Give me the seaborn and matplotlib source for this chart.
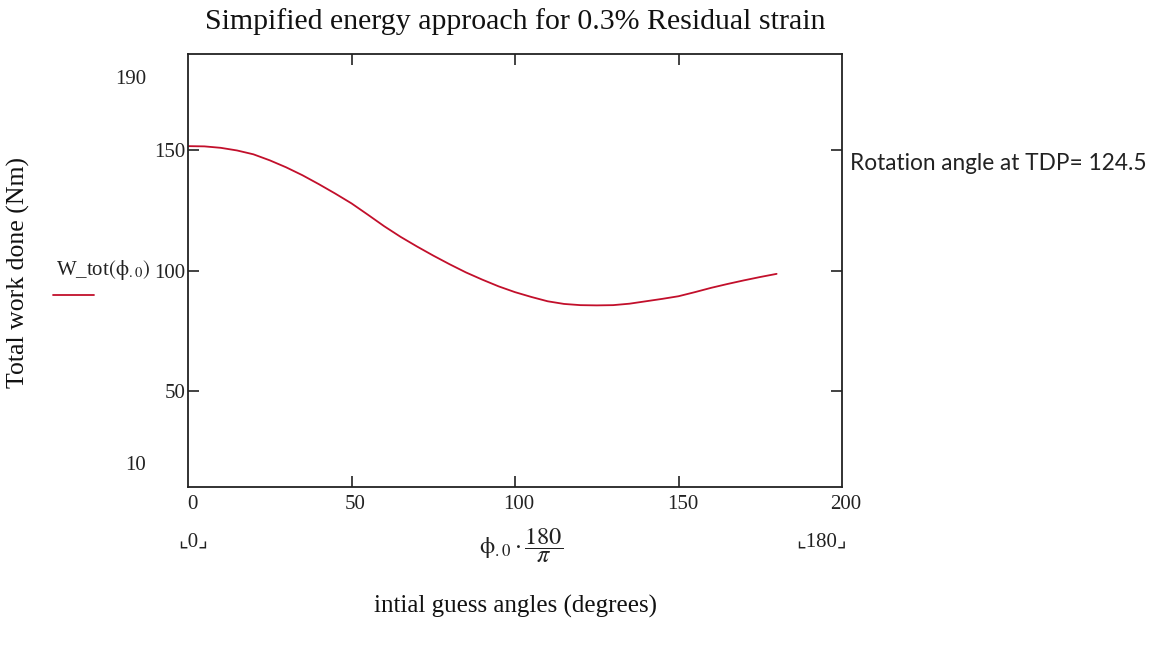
import matplotlib
matplotlib.use("Agg")
import matplotlib.pyplot as plt
from matplotlib.lines import Line2D
import matplotlib.transforms as mtransforms
import seaborn as sns
import pandas as pd

# ---- data ----
phi_deg = [0, 5, 10, 15, 20, 25, 30, 35, 40, 45, 50, 55, 60, 65, 70, 75, 80, 85, 90,
           95, 100, 105, 110, 115, 120, 125, 130, 135, 140, 145, 150, 155, 160, 165, 170, 175, 180]
w_tot = [151.7, 151.6, 151.0, 149.9, 148.3, 145.8, 142.9, 139.6, 135.9, 132.0, 127.9, 123.2, 118.4,
         114.0, 110.0, 106.2, 102.6, 99.2, 96.2, 93.4, 91.0, 89.0, 87.2, 86.1, 85.6, 85.5, 85.6,
         86.2, 87.2, 88.2, 89.3, 91.0, 92.8, 94.4, 95.9, 97.3, 98.6]
x_ticks = [0, 50, 100, 150, 200]
y_ticks = [50, 100, 150]
y_limits = [10, 190]
x_limits = [0, 200]
title = "Simpified energy approach for 0.3% Residual strain"
y_label = "Total work done (Nm)"
x_label = "intial guess angles (degrees)"
note = "Rotation angle at TDP= 124.5"

W, H = 1158, 646
sns.set_theme(style="white")
plt.rcParams["font.family"] = ["Liberation Serif", "DejaVu Serif"]
plt.rcParams["mathtext.fontset"] = "stix"

fig = plt.figure(figsize=(W / 100, H / 100), dpi=100)
fig.patch.set_facecolor("white")


def fx(x):
    return x / W


def fy(y):
    return 1 - y / H


ax = fig.add_axes([fx(188), fy(487), (842 - 188) / W, (487 - 54) / H])
df = pd.DataFrame({"phi": phi_deg, "W": w_tot})
red = "#c20f2b"
sns.lineplot(data=df, x="phi", y="W", ax=ax, color=red, linewidth=1.3)

ax.set_xlim(*x_limits)
ax.set_ylim(*y_limits)
ax.set_xticks(x_ticks)
ax.set_yticks(y_ticks)
ax.set_xticklabels([str(v) for v in x_ticks])
ax.set_yticklabels([str(v) for v in y_ticks])
ax.tick_params(axis="both", direction="in", length=8, width=1.2, color="#222222",
               top=True, right=True, bottom=True, left=True,
               labelsize=15, labelcolor="#222222", pad=6)
ax.tick_params(axis="y", pad=2)
shift = mtransforms.ScaledTranslation(4 / 100, 0, fig.dpi_scale_trans)
for lab in ax.get_xticklabels():
    lab.set_transform(lab.get_transform() + shift)
for side in ax.spines.values():
    side.set_color("#222222")
    side.set_linewidth(1.3)
ax.set_xlabel("")
ax.set_ylabel("")
ax.grid(False)
for t in [ax.xaxis.get_major_ticks()[0], ax.xaxis.get_major_ticks()[-1]]:
    t.tick1line.set_visible(False)
    t.tick2line.set_visible(False)

# y-limit labels (Mathcad style)
fig.text(fx(146), fy(80), str(y_limits[1]), ha="right", va="center", fontsize=15, color="#222222")
fig.text(fx(146), fy(465), str(y_limits[0]), ha="right", va="center", fontsize=15, color="#222222")

# title and axis titles
fig.text(fx(515), fy(22), title, ha="center", va="center", fontsize=21.5, color="#111111")
fig.text(fx(18), fy(272), y_label, ha="center", va="center", rotation=90, fontsize=18.5, color="#111111")
fig.text(fx(515), fy(606), x_label, ha="center", va="center", fontsize=18, color="#111111")

# legend-like label
fig.text(fx(150), fy(270), "W_tot" + r"$\left(\mathrm{ϕ}_{.0}\right)$", ha="right", va="center",
         fontsize=15, color="#222222")
fig.add_artist(Line2D([fx(53), fx(94)], [fy(295), fy(295)], color=red, linewidth=1.3))

# x expression and range markers
fig.text(fx(521), fy(546), r"$\mathrm{ϕ}_{.0}\cdot\dfrac{180}{\pi}$", ha="center", va="center",
         fontsize=17.5, color="#222222")
fig.text(fx(193), fy(542), "\u231e0\u231f", ha="center", va="center", fontsize=15, color="#222222",
         family=["Liberation Serif", "DejaVu Sans"])
fig.text(fx(822), fy(542), "\u231e180\u231f", ha="center", va="center", fontsize=15, color="#222222",
         family=["Liberation Serif", "DejaVu Sans"])

# side note
fig.text(fx(850), fy(163), note, ha="left", va="center", fontsize=16.3, color="#222222",
         family=["Lato", "DejaVu Sans"])

fig.savefig("out.png", dpi=100, facecolor="white")
